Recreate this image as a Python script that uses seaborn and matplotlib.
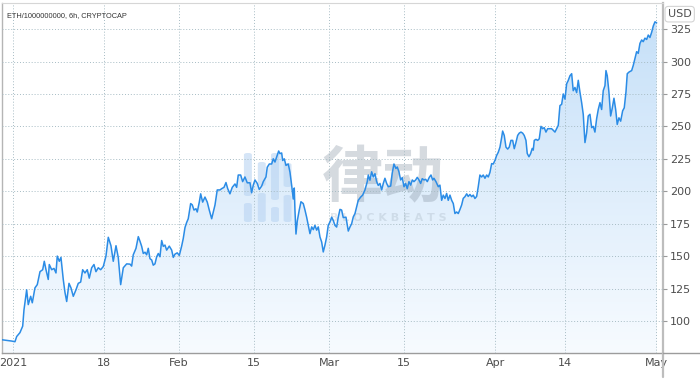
import matplotlib
matplotlib.use("Agg")
import matplotlib.pyplot as plt
import matplotlib.dates as mdates
from matplotlib.colors import LinearSegmentedColormap
from matplotlib.lines import Line2D
from matplotlib.patches import FancyBboxPatch
import numpy as np
import pandas as pd
import seaborn as sns

# ETH market cap (billion USD), 6h chart
# time = days since 2021-01-01
days_since_jan1 = [
    -2.03, -1.16, -0.22, 0.39, 0.71, 1.32, 1.83, 2.07, 2.57, 2.87,
    3.32, 3.62, 4.12, 4.55, 5.06, 5.56, 5.86, 6.18, 6.60, 6.79,
    7.24, 7.67, 8.04, 8.28, 8.66, 8.97, 9.40, 9.72, 10.04, 10.47,
    10.84, 11.27, 11.77, 12.20, 12.65, 13.02, 13.45, 13.88, 14.25, 14.70,
    15.13, 15.50, 15.93, 16.38, 16.87, 17.37, 17.80, 18.30, 18.73, 19.24,
    19.66, 20.11, 20.60, 21.23, 21.85, 22.16, 22.46, 22.97, 23.40, 23.71,
    24.03, 24.33, 24.65, 24.96, 25.26, 25.58, 25.90, 26.19, 26.51, 26.83,
    27.13, 27.44, 27.76, 28.06, 28.38, 28.69, 29.18, 29.63, 29.93, 30.24,
    30.67, 31.05, 31.49, 31.79, 32.11, 32.43, 32.72, 33.17, 33.47, 33.79,
    34.16, 34.40, 34.78, 35.04, 35.41, 35.84, 36.27, 36.64, 37.09, 37.39,
    37.71, 38.13, 38.64, 38.96, 39.39, 39.76, 40.08, 40.50, 40.93, 41.44,
    41.75, 42.05, 42.50, 42.87, 43.30, 43.73, 44.24, 44.55, 44.85, 45.17,
    45.60, 45.97, 46.42, 46.72, 47.22, 47.46, 47.84, 48.28, 48.58, 48.90,
    49.22, 49.59, 49.83, 50.15, 50.34, 50.64, 50.95, 51.38, 51.70, 52.02,
    52.31, 52.50, 52.63, 52.82, 53.06, 53.43, 53.75, 54.18, 54.50, 54.81,
    55.11, 55.43, 55.75, 56.05, 56.36, 56.68, 56.98, 57.30, 57.61, 57.91,
    58.23, 58.54, 58.84, 59.16, 59.48, 59.78, 60.09, 60.41, 60.71, 61.03,
    61.34, 61.64, 62.15, 62.58, 62.89, 63.21, 63.51, 63.83, 64.14, 64.44,
    64.89, 65.26, 65.69, 66.12, 66.31, 66.62, 66.94, 67.24, 67.56, 67.87,
    68.17, 68.49, 68.81, 69.11, 69.42, 69.74, 70.04, 70.49, 70.78, 71.10,
    71.47, 71.72, 72.03, 72.35, 72.65, 72.97, 73.28, 73.58, 73.90, 74.22,
    74.52, 74.83, 75.15, 75.45, 75.77, 76.08, 76.38, 76.70, 77.02, 77.32,
    77.69, 78.01, 78.32, 78.56, 78.94, 79.37, 79.68, 80.00, 80.30, 80.62,
    80.93, 81.23, 81.55, 81.87, 82.17, 82.48, 82.80, 83.10, 83.42, 83.73,
    84.03, 84.35, 84.67, 84.96, 85.28, 85.60, 85.90, 86.21, 86.53, 86.83,
    87.14, 87.46, 87.76, 88.08, 88.40, 88.70, 89.01, 89.33, 89.63, 89.95,
    90.26, 90.56, 90.88, 91.20, 91.38, 91.68, 92.00, 92.32, 92.61, 92.93,
    93.25, 93.55, 93.86, 94.18, 94.48, 94.80, 95.11, 95.41, 95.73, 95.97,
    96.29, 96.60, 96.90, 97.09, 97.28, 97.60, 97.91, 98.21, 98.53, 98.85,
    99.14, 99.46, 99.78, 100.21, 100.52, 100.82, 101.14, 101.46, 101.76, 102.07,
    102.39, 102.69, 103.01, 103.32, 103.62, 103.94, 104.26, 104.55, 104.87, 105.19,
    105.49, 105.80, 106.12, 106.42, 106.74, 107.05, 107.35, 107.67, 107.99, 108.29,
    108.60, 108.92, 109.22, 109.54, 109.85, 110.15, 110.47, 110.66, 110.90, 111.21,
    111.53, 111.83, 112.15, 112.47, 112.76, 113.08, 113.40, 113.77, 114.07, 114.39,
    114.63, 115.00, 115.45, 115.75, 116.07, 116.38, 116.68, 117.00, 117.32, 117.61,
    117.93, 118.25, 118.55, 118.86, 119.18, 119.48, 119.80, 120.12,
]

mcap_bn = [
    85.5, 85, 84.5, 84, 88, 91, 96, 108.5, 124, 112.6,
    119, 114, 125.5, 128, 138, 139.5, 146, 139.5, 132, 143.5,
    139.5, 140.5, 137, 150, 146, 149, 132, 122, 115, 129,
    125.5, 119, 124, 129, 130, 139.5, 137, 139.5, 133, 141,
    143.5, 138, 141, 139.5, 142, 150, 164.5, 158, 146, 158,
    149, 128, 141, 144, 143.8, 142.3, 151, 156, 165, 161.5,
    157.5, 152, 153, 151, 156, 148, 147, 143, 144, 149.5,
    152, 149.5, 162, 157.5, 158.5, 154.6, 157.7, 154.6, 149, 151.5,
    152.5, 150.5, 157.7, 163.6, 172, 176, 178.8, 190.5, 189.5, 185.5,
    186.5, 184, 191.6, 198, 191.6, 195.5, 191.6, 185.5, 178.8, 184,
    189.4, 201, 201, 202, 203, 206.7, 202, 198, 203, 205.6,
    203, 212.5, 212.5, 207.4, 211, 206.5, 206.5, 198.8, 204.7, 208.7,
    206, 201.4, 204, 207.4, 211, 218.5, 221, 221, 225, 222.5,
    226.5, 231, 229, 229.5, 223.7, 225, 219.9, 221, 214.7, 204.4,
    194, 202.5, 185.5, 167, 177, 185.5, 191.9, 190.5, 185.5, 180,
    174, 167.3, 172.5, 170.4, 173.7, 170, 172.5, 164.7, 160.9, 153.2,
    158.5, 164.7, 173.7, 176.3, 180, 177.5, 173.7, 172.4, 180, 186,
    185.5, 179.7, 180, 169.3, 172.4, 175, 180.2, 182.8, 188, 193,
    195.5, 197, 201, 207.4, 212.5, 208.5, 215, 211, 213.5, 207.4,
    204.5, 206, 201, 206, 210, 206, 203.5, 204, 214, 221,
    217.5, 218.7, 215, 208.7, 210.5, 203.5, 206, 202, 207.4, 204.7,
    208.7, 207.4, 208.7, 210.7, 208.7, 206, 209.7, 208.7, 209.2, 207.4,
    210.7, 212.5, 208.7, 210, 207.4, 203.5, 204.7, 193, 197, 194.4,
    198.3, 193, 197, 193, 190.5, 182.8, 184, 182.8, 186, 189.4,
    194.5, 195.8, 198, 196, 197.5, 195.8, 197, 194.4, 196, 203.5,
    212.5, 211, 212.5, 210, 212.5, 211, 214.5, 221.3, 221, 223.8,
    227.6, 230, 234, 241.5, 246.4, 243, 234, 232.5, 234, 239.2,
    239.2, 232.8, 237.5, 243, 244.8, 245.6, 244.8, 243, 239.2, 229.1,
    226.6, 229, 233, 231.7, 239.2, 240, 239.2, 240.4, 250, 248.2,
    249, 245.6, 248.2, 248.2, 248.2, 247, 245.6, 248.2, 250.8, 266,
    267, 275, 271, 282.8, 285.4, 289, 290.6, 277.5, 280, 276,
    285.5, 276.5, 268.3, 259.3, 237.5, 245, 258, 259.3, 249, 250,
    245.6, 256, 263, 268.3, 263, 277.5, 281.4, 293, 289, 276.5,
    258, 264, 271.7, 263, 251.5, 256.6, 254, 262, 264.3, 276.5,
    290.6, 292, 293, 297, 302.5, 307.6, 306.3, 314, 316.6, 315.3,
    318, 317, 320.4, 318.5, 322.5, 327.3, 330.6, 329.8,
]

tick_dates = ["2021-01-01", "2021-01-18", "2021-02-01", "2021-02-15", "2021-03-01",
              "2021-03-15", "2021-04-01", "2021-04-14", "2021-05-01"]
tick_labels = ["2021", "18", "Feb", "15", "Mar", "15", "Apr", "14", "May"]
price_ticks = [100, 125, 150, 175, 200, 225, 250, 275, 300, 325]

start = pd.Timestamp("2021-01-01")
df = pd.DataFrame({
    "time": start + pd.to_timedelta(days_since_jan1, unit="D"),
    "mcap": mcap_bn,
})

sns.set_theme(style="white")
plt.rcParams["font.family"] = ["DejaVu Sans"]

fig = plt.figure(figsize=(7, 3.83), dpi=100)
ax = fig.add_axes([2 / 700, 30 / 383, 661 / 700, 350 / 383])

x_lo = start + pd.Timedelta(days=-2.03)
x_hi = start + pd.Timedelta(days=121.3)
y_lo, y_hi = 75.3, 345.1

# gradient area under the line
poly = ax.fill_between(df["time"], df["mcap"], y_lo, color="none", lw=0)
fade = LinearSegmentedColormap.from_list("fade", ["#f7fbff", "#c4dff8"])
grad = np.linspace(1, 0, 256).reshape(-1, 1)
img = ax.imshow(grad, cmap=fade, aspect="auto", origin="upper", zorder=1,
                extent=[mdates.date2num(x_lo), mdates.date2num(x_hi), y_lo, y_hi])
img.set_clip_path(poly.get_paths()[0], ax.transData)

# watermark
wm_color = "#8795a4"
ax.text(0.576, 0.494, "律动", transform=ax.transAxes, ha="center", va="center",
        fontsize=44, fontweight="bold", color=wm_color, alpha=0.35, zorder=2,
        family=["Noto Sans CJK SC", "DejaVu Sans"])
ax.text(0.585, 0.386, "B L O C K B E A T S", transform=ax.transAxes, ha="center",
        va="center", fontsize=8, fontweight="bold", color=wm_color, alpha=0.22, zorder=2)
bar_x = [0.372, 0.393, 0.413, 0.432]
bar_segs = [[(153, 196), (203, 222)], [(162, 186), (193, 222)],
            [(153, 200), (207, 222)], [(163, 187), (195, 222)]]
for bx, segs in zip(bar_x, bar_segs):
    for top, bot in segs:
        y0 = 1 - (bot - 3) / 350
        h = (bot - top) / 350
        ax.add_patch(FancyBboxPatch((bx - 0.006, y0), 0.012, h, transform=ax.transAxes,
                                    boxstyle="round,pad=0,rounding_size=0.005",
                                    fc="#b9d4f2", ec="none", alpha=0.6, zorder=2))

sns.lineplot(data=df, x="time", y="mcap", ax=ax, color="#2b8ce6", linewidth=1.1, zorder=3)

ax.set_xlim(x_lo, x_hi)
ax.set_ylim(y_lo, y_hi)
ax.set_xticks(pd.to_datetime(tick_dates))
ax.set_xticklabels(tick_labels)
ax.yaxis.tick_right()
ax.set_yticks(price_ticks)
ax.set_xlabel("")
ax.set_ylabel("")
ax.set_axisbelow(False)
ax.grid(True, color="#a7bcc4", linestyle=(0, (1, 2)), linewidth=0.7)
ax.tick_params(axis="x", length=0, pad=3.5, labelsize=8, labelcolor="#4d4d4d")
ax.tick_params(axis="y", length=3, width=0.8, color="#9a9a9a", pad=2,
               labelsize=8, labelcolor="#4d4d4d", right=True, left=False)

for side, col, lw in [("top", "#d6d6d6", 0.8), ("left", "#b5b5b5", 1.0),
                      ("right", "#bdbdbd", 1.6), ("bottom", "#9c9c9c", 1.0)]:
    ax.spines[side].set_visible(True)
    ax.spines[side].set_color(col)
    ax.spines[side].set_linewidth(lw)

# price scale border running through the time scale, time axis line to the edge
fig.add_artist(Line2D([663 / 700, 663 / 700], [6 / 383, 30 / 383], transform=fig.transFigure,
                      color="#bdbdbd", lw=1.6))
fig.add_artist(Line2D([663 / 700, 1], [30 / 383, 30 / 383], transform=fig.transFigure,
                      color="#9c9c9c", lw=1.0))

ax.text(0.007, 0.975, "ETH/1000000000, 6h, CRYPTOCAP", transform=ax.transAxes,
        ha="left", va="top", fontsize=5.3, color="#333333",
        family=["Liberation Sans", "DejaVu Sans"])
fig.text(0.971, 0.963, "USD", ha="center", va="center", fontsize=8, color="#4d4d4d",
         bbox=dict(boxstyle="round,pad=0.25,rounding_size=0.3", fc="white", ec="#d4d4d4", lw=0.8))

fig.savefig("out.png", dpi=100)
